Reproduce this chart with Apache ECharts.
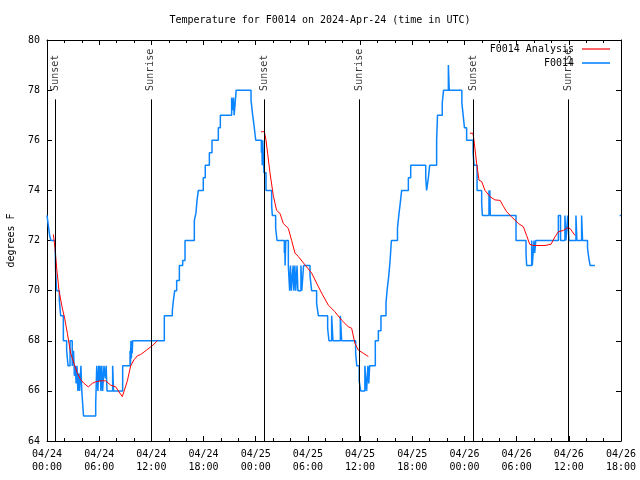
<!DOCTYPE html>
<html>
<head>
<meta charset="utf-8">
<script src="https://cdn.jsdelivr.net/npm/echarts@6/dist/echarts.min.js"></script>
<style>html,body{margin:0;padding:0;background:#fff}#c{width:640px;height:480px}</style>
</head>
<body>
<div id="c"></div>
<script>
// hours since 2024-04-24 00:00 UTC
var xTickLabels = ['04/24\n00:00','04/24\n06:00','04/24\n12:00','04/24\n18:00','04/25\n00:00','04/25\n06:00','04/25\n12:00','04/25\n18:00','04/26\n00:00','04/26\n06:00','04/26\n12:00','04/26\n18:00'];
var sunEventHours = [0.95, 11.93, 25.0, 35.94, 49.05, 59.98];
var sunEventLabels = ['Sunset','Sunrise','Sunset','Sunrise','Sunset','Sunrise'];

var obsHours = [0.0,0.15,0.3,0.45,0.95,1.0,1.1,1.42,1.57,1.88,2.26,2.42,2.65,2.9,3.05,3.15,3.25,3.35,3.45,3.55,3.65,3.75,3.9,4.0,4.2,5.6,5.72,5.85,5.95,6.02,6.1,6.2,6.3,6.4,6.55,6.7,6.8,6.9,7.55,7.65,8.7,9.55,9.6,9.65,9.7,9.75,9.8,9.85,
13.49,14.41,14.53,14.68,14.91,15.22,15.6,15.87,16.94,17.13,17.25,17.4,17.97,18.2,18.67,18.97,19.7,19.93,21.23,21.33,21.44,21.52,21.64,21.75,23.46,23.65,23.8,24.0,24.65,24.7,24.75,24.8,24.95,25.18,25.83,25.91,26.29,26.45,
27.29,27.33,27.38,27.45,27.75,27.9,28.0,28.1,28.3,28.38,28.5,28.6,28.75,28.85,29.2,29.3,29.5,30.24,30.43,31.0,31.2,32.27,32.42,32.73,32.88,33.73,33.88,35.49,35.62,35.9,36.07,36.55,36.75,36.9,37.0,37.1,37.75,38.1,38.4,
38.98,39.1,39.3,39.45,39.6,40.3,40.45,40.62,40.78,41.55,41.82,43.55,43.65,43.85,44.0,44.8,44.9,45.45,45.6,46.15,46.25,47.7,47.85,48.0,48.25,49.0,49.1,49.45,49.98,50.06,50.82,50.87,50.92,50.97,53.93,55.08,55.15,55.73,55.8,56.0,56.08,56.2,
58.8,59.05,59.55,59.67,59.87,60.02,60.82,60.93,61.47,61.58,62.15,62.3,62.45,62.5,63.0,65.85,66.0];
var obsTemps = [73,72.6,72.2,72,71.6,70.7,70,69.6,69,68,67.6,67,68,67,67.6,66.6,67,66.3,67,66,66.7,66,67,66,65,65.5,67,66,67,66.4,67,66,67,66,67,66.5,67,66,67,66,67,67.6,67,68,67.3,68,67.5,68,
69,69.2,69.6,70,70.4,71,71.2,72,72.8,73.1,73.6,74,74.5,75,75.5,76,76.5,77,77.7,77.2,77.7,77,77.5,78,77.6,77,76.6,76,75.5,76,75,76,74.7,74,73.4,73,72.5,72,
71.5,72,71,72,71,70,71,70,71,70,71,70,71,70,71,70,71,70.6,70,69.5,69,68.5,68,69,68,69,68,67.5,67,66.4,66,67,66,67,66.3,67,68,68.4,69,
69.5,70,70.6,71.2,72,72.5,73,73.5,74,74.5,75,74.5,74,74.5,75,76,77,77.5,78,79,78,77.5,77,76.5,76,75.5,75,74,73.5,73,74,73,74,73,72,71.5,71,72,71,72,71.5,72,
73,72,73,72,73,72,73,72,73,72,71.7,71.3,71,71,null,73,73];

var anaHours = [0.73,0.85,0.92,1.11,1.38,1.76,2.03,2.34,2.72,3.1,3.49,3.87,4.25,4.75,5.21,5.6,6.17,6.75,7.32,7.9,8.28,8.66,8.85,9.24,9.62,10.0,10.39,10.77,11.46,12.2,12.69,13.0,
24.61,24.99,25.18,25.37,25.64,26.02,26.4,26.79,27.17,27.75,28.13,28.51,28.9,29.66,30.43,31.0,31.58,32.35,33.1,33.88,34.64,35.03,35.4,35.8,36.37,36.95,37.2,
48.64,48.98,49.14,49.4,49.67,49.98,50.36,50.94,51.5,52.1,52.5,52.85,53.4,54.2,54.77,55.15,55.5,55.9,57.26,57.95,58.4,58.8,59.37,59.75,60.14,60.71];
var anaTemps = [72.24,72.24,71.7,70.9,70,69.3,68.9,68.3,67.5,67.1,66.7,66.45,66.3,66.16,66.3,66.36,66.4,66.4,66.23,66.16,65.96,65.77,65.77,66.4,67.0,67.24,67.4,67.45,67.63,67.83,68.0,null,
76.34,76.34,76.01,75.47,74.7,73.8,73.2,73.08,72.68,72.48,72.0,71.5,71.36,71.03,70.7,70.3,69.9,69.42,69.16,68.82,68.56,68.5,67.9,67.63,67.5,67.37,null,
76.28,76.28,75.88,75.08,74.41,74.35,74.0,73.75,73.62,73.6,73.35,73.15,72.95,72.68,72.55,72.2,71.85,71.8,71.8,71.85,72.14,72.35,72.4,72.5,72.48,72.2];

var yMin = 64, yMax = 80, sunLineTop = 77.63, sunLabelAt = 77.93;

function pairs(xs, ys){ return xs.map(function(x,i){ return [x, ys[i] === null ? '-' : ys[i]]; }); }

var FONT = 'DejaVu Sans Mono';
var chart = echarts.init(document.getElementById('c'), null, {renderer:'canvas'});

var tickCommon = {show:true, inside:true, length:5, lineStyle:{color:'#000', width:1}};
var lineCommon = {show:true, onZero:false, lineStyle:{color:'#000', width:1}};

chart.setOption({
  animation:false,
  backgroundColor:'#fff',
  textStyle:{fontFamily:FONT},
  title:{text:'Temperature for F0014 on 2024-Apr-24 (time in UTC)', left:'center', top:10,
    textStyle:{fontFamily:FONT, fontSize:10, fontWeight:'normal', color:'#000'}},
  grid:{left:47, right:19, top:40, bottom:39, show:false, containLabel:false, outerBoundsMode:'none'},
  legend:[
    {data:['F0014 Analysis'], right:25, top:39, orient:'vertical', align:'right', icon:'rect', itemWidth:28, itemHeight:1.2,
      textStyle:{fontFamily:FONT, fontSize:10, color:'#000', padding:[0,3,0,0]}},
    {data:['F0014'], right:25, top:53, orient:'vertical', align:'right', icon:'rect', itemWidth:28, itemHeight:1.6,
      textStyle:{fontFamily:FONT, fontSize:10, color:'#000', padding:[0,3,0,0]}}
  ],
  xAxis:[
    {type:'value', min:0, max:66, interval:6, position:'bottom', axisLine:lineCommon, axisTick:tickCommon,
      minorTick:{show:true, splitNumber:3, length:3, lineStyle:{color:'#000'}}, splitLine:{show:false},
      axisLabel:{fontFamily:FONT, fontSize:10, color:'#000', lineHeight:13, margin:7,
        formatter:function(v){ return xTickLabels[Math.round(v/6)]; }}},
    {type:'value', min:0, max:66, interval:6, position:'top', axisLine:lineCommon, axisTick:tickCommon,
      minorTick:{show:true, splitNumber:3, length:3, lineStyle:{color:'#000'}}, splitLine:{show:false},
      axisLabel:{show:false}}
  ],
  yAxis:[
    {type:'value', min:yMin, max:yMax, interval:2, position:'left', axisLine:lineCommon, axisTick:tickCommon, splitLine:{show:false},
      name:'degrees F', nameLocation:'middle', nameRotate:90, nameGap:31,
      nameTextStyle:{fontFamily:FONT, fontSize:10, color:'#000'},
      axisLabel:{fontFamily:FONT, fontSize:10, color:'#000', margin:7}},
    {type:'value', min:yMin, max:yMax, interval:2, position:'right', axisLine:lineCommon, axisTick:tickCommon, splitLine:{show:false},
      axisLabel:{show:false}}
  ],
  series:[
    {name:'sun', type:'scatter', symbolSize:0, silent:true, z:1,
      data:sunEventHours.map(function(h,i){ return [h, sunLabelAt, sunEventLabels[i]]; }),
      label:{show:true, position:'inside', rotate:90, align:'left', verticalAlign:'middle', offset:[1,0],
        fontFamily:FONT, fontSize:10, color:'#000', formatter:function(p){ return p.data[2]; }},
      markLine:{silent:true, symbol:['none','none'], label:{show:false},
        lineStyle:{color:'#000', width:1, type:'solid'},
        data:sunEventHours.map(function(h){ return [{coord:[h, sunLineTop]}, {coord:[h, yMin]}]; })}
    },
    {name:'F0014 Analysis', type:'line', color:'#ff0000', symbol:'none', connectNulls:false,
      lineStyle:{color:'#ff0000', width:1}, data:pairs(anaHours, anaTemps), z:3},
    {name:'F0014', type:'line', step:'end', color:'#0a84ff', symbol:'none', connectNulls:false,
      lineStyle:{color:'#0a84ff', width:1.5}, data:pairs(obsHours, obsTemps), z:2}
  ]
});
</script>
</body>
</html>
